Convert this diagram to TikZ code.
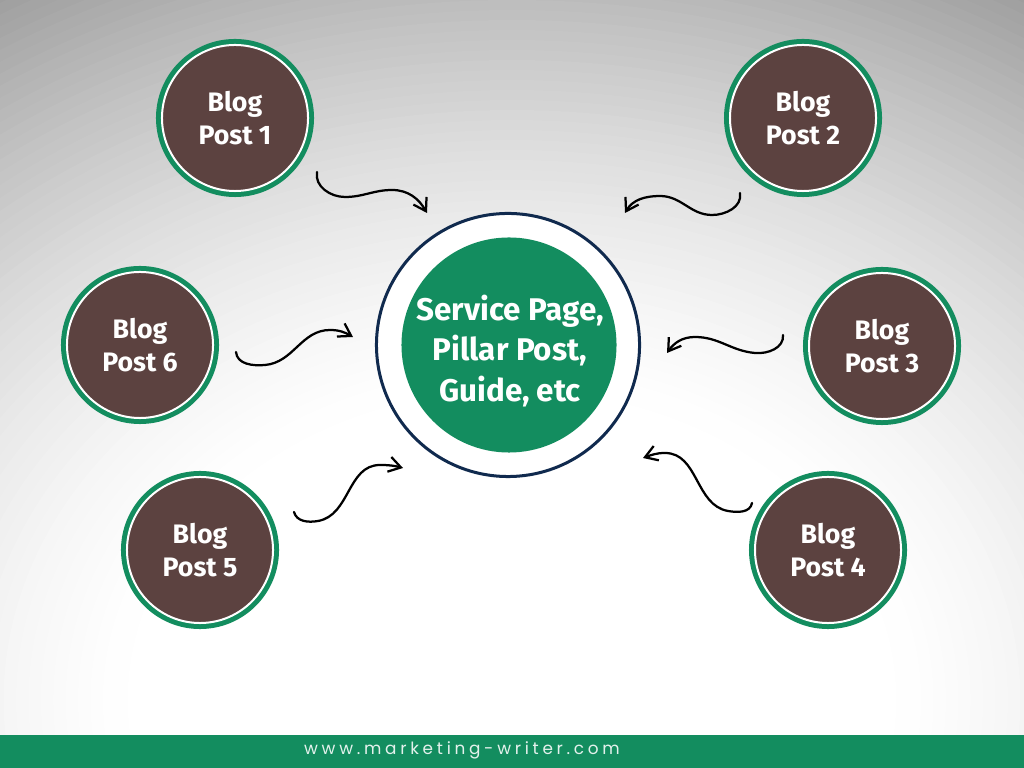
\documentclass[tikz,border=0pt]{standalone}
\usepackage{fontspec}
\setmainfont{Fira Sans}
\newfontfamily\urlfont[LetterSpace=22]{Poppins}
\usetikzlibrary{arrows.meta}

\definecolor{brandgreen}{HTML}{138D5F}
\definecolor{postbrown}{HTML}{5C4240}
\definecolor{hubnavy}{HTML}{102A4E}

\tikzset{
  post/.style={circle, inner sep=0pt, minimum size=3.65cm, fill=postbrown,
    draw=white, line width=0.5mm, preaction={draw=brandgreen, line width=3mm},
    text=white, align=center, font=\bfseries\fontsize{19pt}{24pt}\selectfont},
  hubring/.style={circle, inner sep=0pt, minimum size=6.575cm, fill=white,
    draw=hubnavy, line width=0.75mm},
  hub/.style={circle, inner sep=0pt, minimum size=5.375cm, fill=brandgreen},
  hublabel/.style={text=white, align=center, font=\bfseries\fontsize{22.3pt}{29pt}\selectfont},
  squiggle/.style={-{Straight Barb[length=3mm,width=3.8mm]}, line width=1.6pt,
    line cap=round, line join=round, black},
  urltext/.style={text=white!88!brandgreen, font=\urlfont\fontsize{12pt}{14pt}\selectfont}
}

\begin{document}
\begin{tikzpicture}[x=0.025cm, y=0.025cm]
  \useasboundingbox (0,0) rectangle (1024,768);
  % background glow
  \begin{scope}
    \clip (0,0) rectangle (1024,768);
    \fill[white!62!black] (0,0) rectangle (1024,768);
    \foreach \d in {830,820,...,310} {
      \pgfmathsetmacro\glowval{min(100,100-38*((\d-300)/520)^1.5)}
      \fill[white!\glowval!black] (512,68) ellipse [x radius=1.24*\d, y radius=\d];
    }
  \end{scope}
  \fill[brandgreen] (0,0) rectangle (1024,33);
  \node[urltext] (url) at (462,18) {www.marketing-writer.com};

  % hub
  \node[hubring] (hubring) at (508,423) {};
  \node[hub] (hub) at (509,423) {};
  \node[hublabel] (hubtext) at (510,417) {Service Page,\\Pillar Post,\\Guide, etc};

  % blog posts
  \node[post] (post1) at (235,650) {Blog\\Post 1};
  \node[post] (post2) at (803,650) {Blog\\Post 2};
  \node[post] (post3) at (882,422) {Blog\\Post 3};
  \node[post] (post4) at (828,218) {Blog\\Post 4};
  \node[post] (post5) at (200,218) {Blog\\Post 5};
  \node[post] (post6) at (140,423) {Blog\\Post 6};

  % arrow ends
  \coordinate (s1) at (317,596); \coordinate (e1) at (427,555);
  \coordinate (s2) at (740,575); \coordinate (e2) at (625,555);
  \coordinate (s3) at (783,433); \coordinate (e3) at (667,415);
  \coordinate (s4) at (752,265); \coordinate (e4) at (643,310);
  \coordinate (s5) at (294,256); \coordinate (e5) at (403,300);
  \coordinate (s6) at (236,416); \coordinate (e6) at (353,431);

  \draw[squiggle] (s1) to[out=-100,in=180] ++(28,-25) to[out=0,in=180] ++(47,7) to[out=0,in=120] (e1);
  \draw[squiggle] (s2) to[out=-80,in=0] ++(-28,-22) to[out=180,in=0] ++(-52,19) to[out=180,in=60] (e2);
  \draw[squiggle] (s3) to[out=-85,in=-5] ++(-28,-18) to[out=175,in=0] ++(-60,16) to[out=180,in=55] (e3);
  \draw[squiggle] (s4) to[out=-100,in=-10] ++(-24,-8) to[out=170,in=0] ++(-63,58) to[out=180,in=20] (e4);
  \draw[squiggle] (s5) to[out=-75,in=190] ++(24,-9) to[out=10,in=180] ++(62,56) to[out=0,in=165] (e5);
  \draw[squiggle] (s6) to[out=-85,in=185] ++(29,-13) to[out=5,in=180] ++(65,35) to[out=0,in=150] (e6);
\end{tikzpicture}
\end{document}
